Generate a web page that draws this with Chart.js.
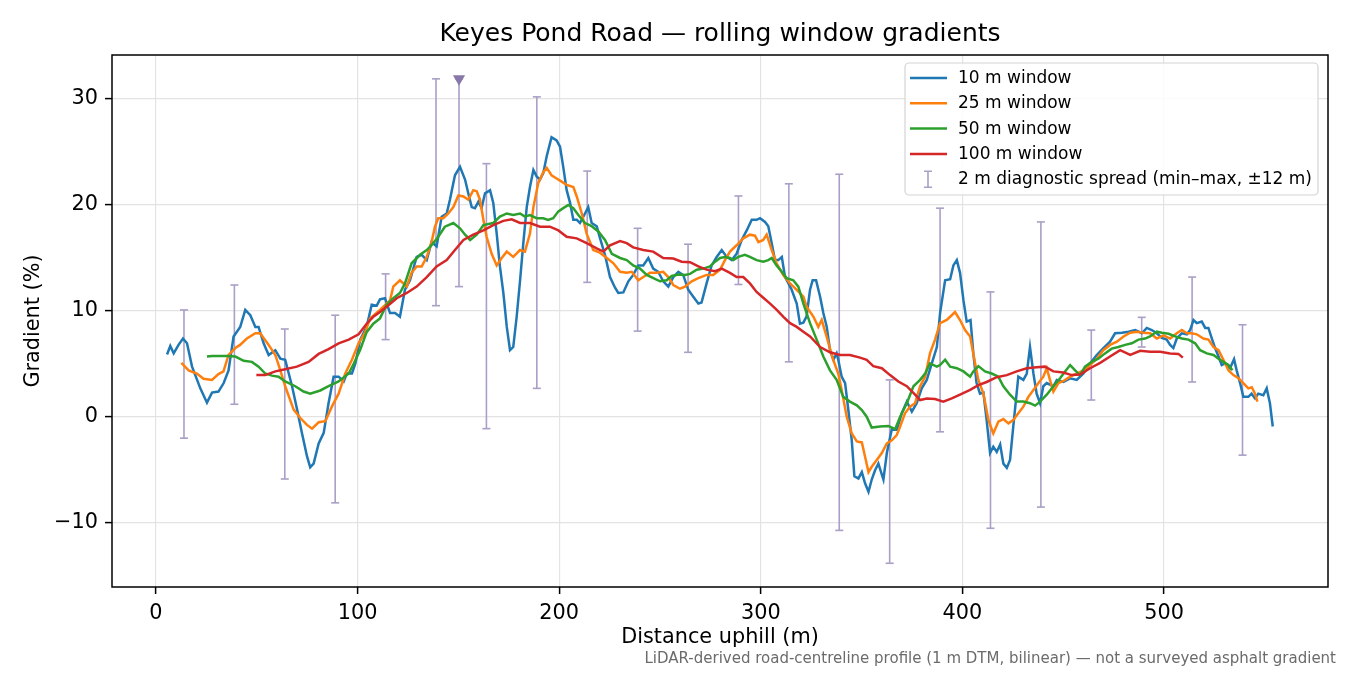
<!DOCTYPE html>
<html>
<head>
<meta charset="utf-8">
<title>Keyes Pond Road — rolling window gradients</title>
<script src="https://cdn.jsdelivr.net/npm/chart.js@4.4.1/dist/chart.umd.min.js"></script>
<style>
    html, body { margin: 0; padding: 0; background: #fff; }
    #wrap { width: 1350px; height: 675px; }
</style>
</head>
<body>
<div id="wrap"><canvas id="chart" width="1350" height="675"></canvas></div>
<script>
// Values (distance in m, gradient in %).
const dist10 = [
    5.5, 7.1, 8.8, 11.2, 13.4, 15.4, 17.9, 22.0, 25.3, 27.8, 31.0, 33.6, 36.0, 38.5, 41.8, 44.3, 46.8, 49.3, 50.9, 53.4,
    55.9, 59.2, 61.7, 64.1, 67.5, 70.0, 72.4, 74.9, 76.5, 78.2, 80.7, 83.2, 85.6, 88.1, 90.6, 93.1, 94.7, 97.2, 98.9, 101.3,
    104.5, 107.0, 109.5, 111.1, 113.6, 116.1, 118.6, 121.0, 123.5, 126.0, 129.3, 131.8, 134.3, 136.7, 139.2, 141.7, 144.2, 145.8, 148.3, 150.8,
    153.3, 154.9, 156.6, 158.2, 159.9, 161.5, 163.2, 165.7, 167.3, 169.0, 170.6, 172.3, 174.0, 175.6, 177.2, 178.9, 180.6, 182.2, 183.9, 185.5,
    187.2, 188.8, 190.5, 192.1, 193.8, 196.2, 198.7, 200.4, 202.0, 203.7, 205.4, 207.0, 208.7, 210.3, 212.8, 214.4, 216.1, 218.6, 220.2, 222.7,
    225.2, 227.7, 229.3, 231.8, 234.3, 236.7, 239.2, 241.7, 244.2, 246.6, 249.1, 251.6, 254.1, 256.6, 259.1, 261.5, 264.0, 266.5, 269.0, 270.6,
    273.1, 275.6, 278.1, 280.6, 283.1, 285.6, 288.0, 290.5, 293.0, 295.5, 297.9, 299.6, 302.1, 303.7, 305.4, 307.0, 308.7, 310.4, 312.0, 313.7,
    315.3, 317.8, 319.4, 321.1, 322.7, 324.4, 325.7, 327.4, 329.4, 331.0, 332.7, 334.3, 336.0, 337.6, 338.4, 340.1, 341.8, 343.4, 345.1, 346.4,
    348.4, 350.1, 351.7, 353.4, 355.0, 356.7, 358.3, 360.8, 362.5, 365.0, 367.4, 369.9, 372.4, 374.9, 377.3, 379.8, 382.3, 384.8, 387.3, 388.9,
    391.4, 393.9, 395.5, 397.2, 398.8, 400.5, 402.1, 404.0, 405.4, 407.0, 408.7, 410.4, 412.0, 413.7, 415.3, 417.0, 418.7, 420.3, 422.0, 423.6,
    425.2, 427.7, 430.2, 431.9, 433.5, 435.2, 436.8, 438.5, 440.1, 441.8, 445.1, 446.8, 450.1, 453.4, 456.7, 460.0, 463.3, 466.6, 469.9, 473.2,
    475.7, 479.1, 482.4, 485.7, 489.0, 491.4, 493.9, 496.4, 498.9, 501.3, 503.0, 504.6, 506.3, 508.8, 511.3, 512.9, 514.6, 516.2, 518.7, 520.4,
    522.0, 523.7, 525.3, 527.0, 528.6, 530.3, 532.7, 534.7, 536.0, 537.7, 539.3, 541.8, 543.4, 545.1, 546.7, 549.2, 550.9, 552.5, 553.9,
];
const grad10 = [
    5.9, 6.7, 6.0, 6.8, 7.4, 6.95, 4.75, 2.7, 1.35, 2.3, 2.4, 3.2, 4.4, 7.6, 8.5, 10.1, 9.6, 8.5, 8.5, 6.95,
    5.85, 6.3, 5.5, 5.4, 2.9, 0.7, -1.5, -3.7, -4.75, -4.4, -2.5, -1.5, 1.3, 3.8, 3.8, 3.35, 4.1, 4.1, 5.05, 7.3,
    8.5, 10.6, 10.5, 11.1, 11.2, 9.8, 9.8, 9.45, 12.0, 12.9, 15.1, 15.3, 14.8, 16.5, 16.1, 18.9, 19.2, 20.5, 22.8, 23.6,
    22.4, 21.1, 19.8, 19.7, 20.3, 19.7, 21.1, 21.4, 20.2, 17.3, 14.2, 11.7, 8.5, 6.3, 6.6, 9.45, 12.9, 16.4, 19.8, 21.7,
    23.3, 22.7, 22.4, 23.0, 24.6, 26.4, 26.1, 25.5, 23.6, 21.4, 20.2, 18.6, 18.6, 18.3, 19.2, 19.8, 18.3, 18.0, 16.9, 15.3,
    13.2, 12.2, 11.7, 11.75, 12.8, 13.4, 14.3, 14.3, 15.0, 14.0, 13.7, 12.8, 12.3, 13.2, 13.7, 13.4, 12.0, 11.35, 10.7, 10.8,
    12.6, 14.3, 15.1, 15.75, 15.1, 14.8, 15.4, 16.7, 17.6, 18.6, 18.6, 18.75, 18.4, 18.0, 16.4, 14.8, 14.8, 15.1, 13.2, 12.6,
    12.0, 10.7, 8.8, 8.9, 9.5, 12.0, 12.9, 12.9, 11.35, 9.8, 8.5, 6.3, 5.4, 6.0, 5.4, 3.8, 3.2, 0.66, -2.2, -5.6,
    -5.8, -5.2, -6.25, -7.05, -5.9, -5.0, -4.4, -5.9, -3.4, -1.1, -1.2, 0.35, 1.45, 0.5, 1.3, 2.7, 3.5, 5.05, 6.6, 9.8,
    12.9, 13.0, 14.3, 14.8, 13.6, 11.0, 9.0, 9.15, 6.0, 3.2, 2.2, 2.3, -0.3, -3.4, -2.8, -3.3, -2.6, -4.4, -4.8, -4.05,
    -0.9, 3.8, 3.5, 4.1, 6.6, 4.1, 2.2, 1.3, 2.9, 3.2, 2.9, 3.5, 3.3, 3.65, 3.5, 4.1, 5.05, 5.85, 6.5, 7.1,
    7.9, 7.95, 8.05, 8.2, 7.9, 8.4, 8.2, 7.9, 7.45, 7.3, 6.8, 6.5, 7.4, 7.9, 7.8, 8.2, 9.15, 8.85, 9.0, 8.4,
    8.4, 7.4, 6.5, 5.7, 4.9, 5.05, 4.6, 5.45, 4.4, 3.2, 1.9, 1.9, 2.2, 1.75, 2.2, 2.05, 2.7, 1.3, -0.9,
];

const dist25 = [
    12.6, 16.2, 20.3, 23.6, 27.8, 31.0, 33.5, 36.0, 39.4, 41.7, 45.1, 49.3, 51.7, 55.9, 59.2, 61.7, 64.1, 68.3, 71.6, 74.9,
    77.4, 80.7, 84.0, 87.3, 90.6, 93.9, 97.2, 100.5, 103.8, 106.2, 111.1, 116.1, 117.7, 121.0, 124.4, 126.8, 129.3, 131.8, 134.3, 136.7,
    138.4, 140.0, 142.5, 145.0, 147.5, 150.0, 152.5, 154.9, 157.4, 159.1, 160.7, 162.4, 164.0, 166.5, 169.0, 171.5, 174.0, 177.2, 180.6, 183.0,
    185.5, 187.2, 189.6, 192.1, 193.8, 196.2, 198.7, 201.2, 203.7, 207.0, 208.7, 211.2, 213.6, 216.9, 220.2, 223.6, 226.9, 230.2, 233.5, 236.0,
    239.2, 241.7, 245.0, 248.3, 251.6, 254.1, 256.6, 259.9, 262.4, 265.7, 269.0, 273.1, 276.4, 279.8, 282.2, 284.7, 288.0, 291.3, 294.6, 297.1,
    298.8, 301.2, 302.9, 305.4, 307.8, 311.1, 314.5, 317.8, 321.1, 322.7, 326.1, 328.5, 330.2, 332.6, 335.9, 338.4, 340.1, 342.6, 345.1, 347.6,
    350.1, 351.7, 353.4, 355.0, 357.5, 360.0, 362.5, 365.0, 367.4, 369.1, 371.5, 374.0, 376.5, 379.0, 381.5, 383.9, 386.4, 388.9, 392.2, 394.7,
    396.3, 398.8, 401.3, 403.8, 406.3, 407.9, 410.4, 412.9, 415.3, 417.8, 420.3, 422.8, 425.2, 427.7, 430.2, 432.7, 435.2, 437.7, 440.1, 441.8,
    443.4, 445.1, 447.6, 450.1, 453.4, 456.7, 460.0, 463.3, 466.6, 469.9, 473.2, 476.6, 479.9, 483.2, 486.5, 489.8, 493.1, 496.4, 499.7, 503.0,
    506.3, 508.8, 511.3, 513.7, 516.2, 519.5, 522.0, 524.5, 527.0, 529.4, 531.9, 534.4, 536.9, 539.3, 541.8, 543.5, 545.1, 546.3,
];
const grad25 = [
    5.1, 4.4, 4.1, 3.6, 3.5, 4.05, 4.3, 5.85, 6.5, 6.8, 7.4, 7.9, 7.9, 6.8, 5.85, 4.4, 2.9, 0.7, -0.1, -0.75,
    -1.1, -0.5, -0.4, 1.0, 2.2, 4.1, 5.4, 6.95, 8.0, 9.3, 10.1, 11.0, 12.3, 12.9, 12.3, 13.6, 14.2, 14.2, 15.1, 16.5,
    17.95, 18.75, 18.75, 19.2, 19.8, 20.9, 20.8, 20.5, 21.4, 21.3, 20.5, 18.6, 17.0, 15.4, 14.3, 15.0, 15.6, 15.1, 15.75, 15.6,
    17.3, 19.8, 22.05, 23.1, 23.5, 22.8, 22.5, 22.2, 21.9, 21.7, 20.8, 19.2, 17.3, 15.75, 15.5, 15.0, 14.5, 13.7, 13.6, 13.7,
    12.9, 13.2, 13.6, 13.6, 13.7, 13.2, 12.45, 12.1, 12.3, 12.8, 13.1, 13.4, 13.4, 13.9, 14.8, 15.6, 16.2, 16.85, 17.2, 17.1,
    16.5, 16.7, 17.2, 15.75, 14.5, 13.4, 12.6, 12.0, 11.35, 10.4, 9.45, 8.5, 9.15, 7.6, 5.4, 4.1, 2.55, 0.03, -1.55, -2.3,
    -2.4, -3.75, -5.2, -4.7, -4.05, -3.4, -2.5, -2.2, -1.7, -0.9, 0.35, 0.97, 1.3, 2.9, 3.8, 6.0, 7.3, 8.85, 9.15, 9.6,
    9.9, 9.15, 8.2, 7.6, 5.05, 3.5, 2.2, -0.3, -1.55, -0.45, -0.2, -0.6, -0.3, 0.35, 0.97, 1.9, 2.55, 3.2, 3.8, 4.6,
    3.5, 2.4, 3.2, 3.4, 3.8, 4.1, 4.4, 4.9, 5.5, 6.3, 6.8, 7.1, 7.6, 7.95, 8.05, 7.95, 7.9, 7.4, 7.7, 7.4,
    7.9, 8.2, 7.9, 7.9, 7.8, 7.4, 7.3, 6.6, 6.3, 5.4, 4.4, 3.95, 3.65, 3.2, 2.7, 2.8, 2.2, 1.45,
];

const dist50 = [
    25.3, 27.8, 31.0, 35.2, 39.4, 43.5, 47.6, 50.9, 54.2, 57.5, 60.8, 64.1, 69.1, 73.2, 76.5, 81.5, 85.6, 90.6, 95.6, 98.0,
    101.2, 104.5, 107.8, 111.1, 114.4, 117.7, 121.0, 123.5, 126.8, 131.0, 134.3, 136.7, 140.0, 143.3, 147.5, 150.8, 153.3, 155.8, 159.1, 162.4,
    167.3, 170.6, 174.0, 177.2, 180.6, 183.0, 185.5, 188.8, 192.1, 194.5, 197.0, 199.6, 202.0, 204.5, 207.0, 209.5, 212.8, 216.1, 219.4, 222.7,
    226.1, 230.2, 233.5, 236.7, 240.1, 243.4, 246.7, 250.0, 253.3, 255.8, 259.1, 262.4, 264.9, 268.2, 271.5, 274.8, 277.3, 279.8, 282.2, 284.7,
    286.4, 288.8, 292.1, 294.6, 297.9, 301.2, 303.7, 305.4, 307.8, 310.4, 312.8, 316.1, 318.6, 321.1, 324.4, 327.7, 331.0, 334.3, 337.6, 340.9,
    344.2, 347.6, 350.1, 352.5, 355.0, 359.1, 363.3, 366.6, 369.1, 372.4, 375.7, 379.0, 381.5, 383.9, 387.3, 388.9, 391.4, 393.9, 397.2, 400.5,
    403.8, 405.4, 407.9, 411.2, 414.5, 417.8, 420.3, 423.6, 426.9, 430.2, 433.5, 436.0, 438.5, 441.8, 445.1, 448.4, 450.9, 453.4, 455.9, 458.3,
    460.8, 464.1, 467.4, 470.7, 474.0, 477.3, 480.7, 484.0, 487.3, 490.6, 493.0, 496.4, 498.9, 502.2, 505.5, 508.8, 512.1, 515.4, 517.9, 521.2,
    524.5, 527.0, 529.4, 531.9, 533.9,
];
const grad50 = [
    5.7, 5.75, 5.75, 5.75, 5.7, 5.3, 5.2, 4.75, 4.1, 3.9, 3.8, 3.35, 2.9, 2.4, 2.2, 2.5, 2.9, 3.35, 4.1, 5.0,
    6.3, 8.0, 8.8, 9.3, 10.6, 11.2, 11.7, 12.6, 14.5, 15.3, 15.75, 16.2, 17.0, 17.95, 18.3, 17.8, 17.2, 16.7, 17.2, 18.1,
    18.3, 18.9, 19.2, 19.05, 19.2, 18.9, 19.05, 18.75, 18.75, 18.6, 18.75, 19.4, 19.7, 20.0, 19.7, 19.05, 18.3, 18.0, 17.5, 16.7,
    15.4, 15.0, 14.8, 14.3, 14.0, 13.4, 13.1, 12.8, 12.9, 13.3, 13.45, 13.4, 13.5, 13.9, 14.0, 14.2, 14.65, 15.0, 15.1, 15.0,
    14.8, 15.1, 15.3, 15.1, 14.8, 14.65, 14.8, 15.0, 14.3, 13.7, 13.1, 12.9, 12.3, 10.7, 8.85, 7.3, 5.7, 4.4, 3.5, 1.9,
    1.45, 1.1, 0.66, 0.03, -1.0, -0.9, -0.85, -1.15, 0.03, 1.3, 2.9, 3.5, 4.1, 5.05, 4.75, 4.9, 5.4, 4.75, 4.6, 4.3,
    3.8, 4.3, 4.8, 4.3, 4.1, 3.8, 2.9, 2.1, 1.45, 1.45, 1.3, 1.07, 1.45, 2.1, 2.9, 3.65, 4.3, 4.9, 4.4, 3.95,
    4.75, 5.2, 5.5, 6.0, 6.45, 6.6, 6.8, 6.95, 7.3, 7.4, 7.6, 8.05, 7.95, 7.85, 7.6, 7.4, 7.3, 6.95, 6.3, 6.0,
    5.85, 5.5, 5.2, 4.9, 4.4,
];

const dist100 = [
    49.8, 54.2, 59.2, 64.1, 69.9, 75.7, 80.7, 85.6, 90.6, 95.6, 100.5, 104.5, 107.8, 111.1, 114.4, 119.4, 124.4, 129.3, 134.3, 139.2,
    144.2, 148.3, 152.5, 157.4, 162.4, 167.3, 172.3, 176.4, 180.6, 185.5, 190.5, 195.4, 199.6, 203.7, 208.7, 213.6, 218.6, 221.9, 225.2, 230.2,
    233.5, 236.7, 241.7, 246.6, 251.6, 256.6, 260.7, 264.9, 269.0, 273.1, 277.3, 280.6, 284.7, 288.0, 291.3, 294.6, 297.9, 301.2, 304.6, 307.9,
    311.2, 314.5, 317.8, 321.1, 324.4, 329.4, 334.3, 339.3, 344.2, 349.2, 352.5, 355.8, 360.0, 364.1, 368.2, 372.4, 376.5, 379.0, 382.3, 386.4,
    390.5, 394.7, 398.8, 403.8, 407.9, 412.0, 417.0, 422.0, 426.9, 431.9, 436.8, 440.9, 445.1, 450.0, 454.2, 458.3, 463.3, 468.3, 473.2, 478.2,
    483.2, 488.1, 493.1, 498.1, 503.0, 507.1, 509.3,
];
const grad100 = [
    3.95, 3.95, 4.3, 4.5, 4.75, 5.2, 5.95, 6.4, 6.95, 7.3, 7.8, 8.8, 9.45, 9.9, 10.4, 11.2, 11.7, 12.3, 13.2, 14.2,
    14.8, 15.75, 16.7, 17.2, 17.6, 18.1, 18.5, 18.65, 18.3, 18.3, 17.95, 17.95, 17.6, 17.0, 16.85, 16.4, 15.9, 15.6, 16.2, 16.6,
    16.4, 16.0, 15.75, 15.6, 15.0, 14.95, 14.65, 14.6, 14.2, 13.9, 13.75, 14.0, 13.6, 13.2, 13.2, 12.6, 11.8, 11.25, 10.7, 10.1,
    9.45, 8.85, 8.5, 8.05, 7.6, 6.6, 6.1, 5.85, 5.85, 5.6, 5.4, 4.8, 4.6, 3.95, 3.35, 2.9, 2.1, 1.6, 1.75, 1.7,
    1.45, 1.75, 2.1, 2.55, 3.0, 3.3, 3.75, 3.95, 4.3, 4.6, 4.7, 4.75, 4.3, 4.2, 3.95, 4.0, 4.6, 5.1, 5.7, 6.3,
    5.85, 6.25, 6.15, 6.15, 6.0, 5.95, 5.6,
];

// 2 m diagnostic spread, min and max within ±12 m of each station
const spreadX = [13.9, 38.9, 63.9, 88.9, 113.9, 138.9, 150.3, 163.9, 188.9, 213.9, 238.9, 263.9, 288.9, 313.9, 338.9, 363.9, 388.9, 413.9, 438.9, 463.9, 488.9, 513.9, 538.9];
const spreadMin = [-2.0, 1.2, -5.85, -8.1, 7.3, 10.5, 12.3, -1.1, 2.7, 12.7, 8.1, 6.1, 12.5, 5.2, -10.7, -13.8, -1.4, -10.5, -8.5, 1.6, 6.6, 3.3, -3.6];
const spreadMax = [10.1, 12.45, 8.3, 9.6, 13.5, 31.9, 31.9, 23.9, 30.2, 23.2, 17.8, 16.3, 20.85, 22.0, 22.9, 3.5, 19.7, 11.8, 18.4, 8.2, 9.4, 13.2, 8.7];

const peakX = [150.3];
const peakY = [31.9];

const xTicks = [0, 100, 200, 300, 400, 500];
const yTicks = [-10, 0, 10, 20, 30];

const seriesLabels = ["10 m window", "25 m window", "50 m window", "100 m window"];
const spreadLabel = "2 m diagnostic spread (min\u2013max, \u00b112 m)";
const lineColors = ["#1f77b4", "#ff7f0e", "#2ca02c", "#d62728"];
const spreadColor = "#aa9fc6";
const peakColor = "#8878a8";

const FONT = "'DejaVu Sans', 'Liberation Sans', sans-serif";
Chart.defaults.font.family = FONT;
Chart.defaults.color = "#000";

function toPoints(xs, ys) {
    return xs.map((x, i) => ({ x, y: ys[i] }));
}

// lo -> hi pairs, broken by a null so each bar is its own segment
function spreadPoints() {
    const pts = [];
    spreadX.forEach((x, i) => {
        pts.push({ x, y: spreadMin[i] }, { x, y: spreadMax[i] }, { x, y: null });
    });
    return pts;
}

const lineData = [
    [dist10, grad10],
    [dist25, grad25],
    [dist50, grad50],
    [dist100, grad100],
];

const datasets = lineData.map(([xs, ys], i) => ({
    label: seriesLabels[i],
    data: toPoints(xs, ys),
    borderColor: lineColors[i],
    backgroundColor: lineColors[i],
    borderWidth: 2.5,
    pointRadius: 0,
    tension: 0,
    order: 4 - i,
}));

datasets.push({
    label: spreadLabel,
    data: spreadPoints(),
    borderColor: spreadColor,
    backgroundColor: spreadColor,
    borderWidth: 1.6,
    pointStyle: "line",
    pointRadius: 4,
    pointBorderWidth: 1.6,
    pointBorderColor: spreadColor,
    spanGaps: false,
    order: 10,
});

datasets.push({
    label: "peak",
    data: toPoints(peakX, peakY),
    showLine: false,
    pointStyle: "triangle",
    rotation: 180,
    pointRadius: 7,
    pointBackgroundColor: peakColor,
    pointBorderColor: peakColor,
    pointBorderWidth: 0,
    order: 0,
});

// matplotlib-like frame round the plot area
const frame = {
    id: "frame",
    afterDatasetsDraw(chart) {
        const { ctx, chartArea: a } = chart;
        ctx.save();
        ctx.strokeStyle = "#000";
        ctx.lineWidth = 1.5;
        ctx.strokeRect(a.left, a.top, a.right - a.left, a.bottom - a.top);
        ctx.restore();
    },
};

// legend drawn inside the plot, upper right
const boxLegend = {
    id: "boxLegend",
    afterDatasetsDraw(chart) {
        const { ctx, chartArea: a } = chart;
        const w = 413;
        const h = 132;
        const x0 = a.right - 10 - w;
        const y0 = a.top + 8;
        const rowH = 25.3;
        ctx.save();
        ctx.beginPath();
        ctx.roundRect(x0, y0, w, h, 4);
        ctx.fillStyle = "rgba(255,255,255,0.85)";
        ctx.fill();
        ctx.strokeStyle = "#d4d4d4";
        ctx.lineWidth = 1.2;
        ctx.stroke();

        ctx.font = "17px " + FONT;
        ctx.textBaseline = "middle";
        ctx.textAlign = "left";
        const labels = [...seriesLabels, spreadLabel];
        labels.forEach((text, i) => {
            const y = y0 + 15 + i * rowH;
            if (i < lineColors.length) {
                ctx.strokeStyle = lineColors[i];
                ctx.lineWidth = 2.5;
                ctx.beginPath();
                ctx.moveTo(x0 + 5, y);
                ctx.lineTo(x0 + 42, y);
                ctx.stroke();
            } else {
                const cx = x0 + 23;
                ctx.strokeStyle = spreadColor;
                ctx.lineWidth = 1.6;
                ctx.beginPath();
                ctx.moveTo(cx, y - 8);
                ctx.lineTo(cx, y + 8);
                ctx.moveTo(cx - 4, y - 8);
                ctx.lineTo(cx + 4, y - 8);
                ctx.moveTo(cx - 4, y + 8);
                ctx.lineTo(cx + 4, y + 8);
                ctx.stroke();
            }
            ctx.fillStyle = "#000";
            ctx.fillText(text, x0 + 53, y + 0.5);
        });
        ctx.restore();
    },
};

const minusFmt = (v) => (v < 0 ? "\u2212" + Math.abs(v) : String(v));

new Chart(document.getElementById("chart"), {
    type: "line",
    data: { datasets },
    options: {
        responsive: false,
        animation: false,
        layout: { padding: { left: 0, right: 14, top: 0, bottom: 0 } },
        scales: {
            x: {
                type: "linear",
                min: -21.8,
                max: 581.3,
                afterBuildTicks(scale) {
                    scale.ticks = xTicks.map((v) => ({ value: v }));
                },
                afterFit(scale) {
                    scale.height = 63.5;
                },
                border: { display: false },
                grid: {
                    color: "#e3e3e3",
                    lineWidth: 1.2,
                    tickColor: "#000",
                    tickWidth: 1.5,
                    tickLength: 7,
                },
                ticks: {
                    font: { size: 20.8 },
                    padding: 7,
                    maxRotation: 0,
                    autoSkip: false,
                    callback: minusFmt,
                },
                title: {
                    display: true,
                    text: "Distance uphill (m)",
                    font: { size: 20.8, lineHeight: 1.2 },
                    padding: { top: 0, bottom: 0 },
                },
            },
            y: {
                type: "linear",
                min: -16.04,
                max: 34.15,
                afterBuildTicks(scale) {
                    scale.ticks = yTicks.map((v) => ({ value: v }));
                },
                afterFit(scale) {
                    scale.width = 112;
                },
                border: { display: false },
                grid: {
                    color: "#e3e3e3",
                    lineWidth: 1.2,
                    tickColor: "#000",
                    tickWidth: 1.5,
                    tickLength: 7,
                },
                ticks: {
                    font: { size: 20.8 },
                    padding: 7,
                    callback: minusFmt,
                },
                title: {
                    display: true,
                    text: "Gradient (%)",
                    font: { size: 20.8, lineHeight: 1.2 },
                    padding: { top: 21.5, bottom: 0 },
                },
            },
            // empty right-hand box so the plot ends where the reference's does
            yRight: {
                position: "right",
                display: true,
                grid: { display: false },
                border: { display: false },
                ticks: { display: false },
                afterFit(scale) {
                    scale.width = 8;
                },
            },
        },
        plugins: {
            legend: { display: false },
            tooltip: { enabled: false },
            title: {
                display: true,
                text: "Keyes Pond Road \u2014 rolling window gradients",
                fullSize: false,
                color: "#000",
                font: { size: 25, weight: "normal", lineHeight: 1.2 },
                padding: { top: 19.5, bottom: 5.5 },
            },
            subtitle: {
                display: true,
                position: "bottom",
                align: "end",
                text: "LiDAR-derived road-centreline profile (1 m DTM, bilinear) \u2014 not a surveyed asphalt gradient",
                color: "#6b6b6b",
                font: { size: 15, lineHeight: 1.2 },
                padding: { top: 0, bottom: 6.5 },
            },
        },
    },
    plugins: [frame, boxLegend],
});
</script>
</body>
</html>
